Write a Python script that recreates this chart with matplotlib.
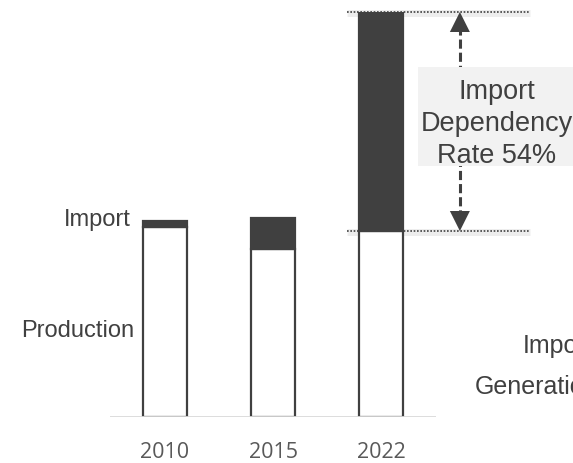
import matplotlib.pyplot as plt
from matplotlib.patches import Rectangle

# Supply split per year (same arbitrary units for both segments)
years = ["2010", "2015", "2022"]
production = [190, 168, 186]
imports = [6, 31, 219]
dependency_label = "Import\nDependency\nRate 54%"

dark = "#404040"
W, H = 573, 463

fig = plt.figure(figsize=(W / 100, H / 100), dpi=100)
total_last = production[-1] + imports[-1]
# axes box in pixels: x 110..436, y from baseline 417 up to top of last bar
ax = fig.add_axes([110 / W, (H - 417) / H, 326 / W, (417 - 12) / H])
ax.set_xlim(-0.509, 2.509)
ax.set_ylim(0, total_last)
ax.axis("off")

x = list(range(len(years)))
bw = 0.41
ax.bar(x, production, width=bw, color="white", edgecolor=dark, linewidth=1.6, zorder=2)
ax.bar(x, imports, width=bw, bottom=production, color=dark, edgecolor=dark,
       linewidth=1.6, zorder=2)
ax.axhline(0, color="#d9d9d9", linewidth=2, zorder=3)

# year labels under the bars
for xi, yr in zip(x, years):
    ax.text(xi, -35, yr, ha="center", va="center", fontsize=15.5,
            family="Open Sans", color="#595959", clip_on=False)

# series labels on the left
ax.text(-0.315, production[0] + imports[0] + 1, "Import", ha="right", va="center",
        fontsize=17, family="Liberation Sans", color=dark, clip_on=False)
ax.text(-0.28, 86, "Production", ha="right", va="center",
        fontsize=17, family="Liberation Sans", color=dark, clip_on=False)

# dotted guides at top of the 2022 bar and top of its production part
top = production[-1] + imports[-1]
base = production[-1]
for yv in (top, base):
    ax.plot([1.685, 3.38], [yv - 1, yv - 1], color="black", alpha=0.07,
            linewidth=5, solid_capstyle="butt", clip_on=False, zorder=1)
    ax.plot([1.685, 3.38], [yv, yv], color=dark, linestyle=(0, (1, 1)),
            linewidth=1.2, clip_on=False, zorder=4)

# double-headed dashed arrow between the guides
arr_x = 2.73
ax.plot([arr_x, arr_x], [base + 12, top - 12], color=dark, linestyle=(0, (3, 1.3)),
        linewidth=2.2, clip_on=False, zorder=4)
for y0, y1 in ((top - 16, top), (base + 16, base)):
    ax.annotate("", xy=(arr_x, y1), xytext=(arr_x, y0), annotation_clip=False,
                arrowprops=dict(arrowstyle="-|>,head_length=0.8,head_width=0.4",
                                mutation_scale=18, color=dark, linewidth=0,
                                shrinkA=0, shrinkB=0),
                zorder=5)

# label box sitting over the arrow
ax.add_patch(Rectangle((2.343, 251), 1.463, 99, facecolor="#f2f2f2",
                       edgecolor="none", clip_on=False, zorder=6))
ax.text(3.074, 293, dependency_label, ha="center", va="center",
        fontsize=19.5, family="Liberation Sans", color=dark, linespacing=1.32,
        clip_on=False, zorder=7)

# neighbouring panel labels running off the right edge
fig.text(523 / W, 1 - 346 / H, "Import", ha="left", va="center", fontsize=18,
         family="Liberation Sans", color=dark)
fig.text(475 / W, 1 - 387 / H, "Generation", ha="left", va="center", fontsize=18,
         family="Liberation Sans", color=dark)

fig.savefig("out.png", dpi=100)
